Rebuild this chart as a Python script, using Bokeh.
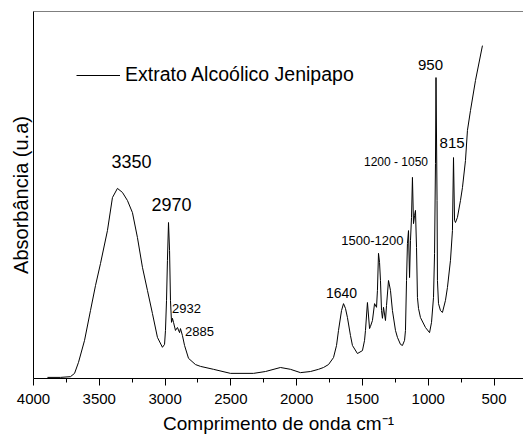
from bokeh.plotting import figure
from bokeh.models import Range1d, Label, FixedTicker, Span
from bokeh.embed import file_html
from bokeh.resources import INLINE

# ---- data ----
wavenumber = [3894, 3795, 3719, 3688, 3658, 3612, 3567, 3529, 3491, 3438,
              3400, 3362, 3324, 3286, 3248, 3210, 3172, 3134, 3096, 3058,
              3020, 3004, 2997, 2989, 2982, 2974, 2966, 2959, 2951, 2944,
              2936, 2921, 2906, 2890, 2883, 2868, 2852, 2822, 2769, 2731,
              2632, 2503, 2328, 2237, 2123, 2047, 1971, 1895, 1834, 1796,
              1758, 1720, 1697, 1682, 1659, 1644, 1629, 1614, 1591, 1576,
              1538, 1500, 1484, 1477, 1462, 1446, 1439, 1424, 1408, 1393,
              1386, 1378, 1370, 1363, 1355, 1348, 1340, 1325, 1317, 1302,
              1287, 1272, 1249, 1234, 1211, 1196, 1180, 1173, 1165, 1158,
              1150, 1142, 1135, 1127, 1120, 1112, 1104, 1097, 1089, 1082,
              1074, 1059, 1021, 990, 975, 960, 952, 945, 941, 933,
              930, 922, 907, 892, 869, 854, 831, 816, 808, 800,
              793, 778, 755, 740, 717, 702, 679, 641, 588]
absorbance = [0.3, 0.3, 0.5, 1.4, 4.4, 10.4, 18.5, 25.3, 31.3, 40.3,
              49.3, 51.8, 50.7, 48.5, 45.2, 38.4, 30.3, 24.0, 17.7, 11.2,
              8.5, 9.3, 13.1, 21.3, 32.2, 42.5, 34.9, 21.3, 15.3, 16.4,
              15.3, 13.1, 13.9, 12.5, 13.6, 11.7, 9.0, 5.5, 3.8, 3.3,
              2.5, 1.4, 1.4, 1.9, 3.0, 2.5, 1.6, 1.9, 2.5, 3.0,
              3.8, 5.7, 9.0, 13.1, 18.5, 20.4, 19.1, 16.6, 11.7, 9.0,
              6.8, 7.6, 10.4, 13.1, 20.7, 13.6, 14.2, 15.8, 20.4, 19.4,
              24.0, 34.1, 31.6, 26.7, 18.5, 16.4, 19.4, 15.8, 19.9, 26.7,
              24.0, 18.5, 13.1, 11.2, 9.3, 9.0, 10.4, 13.1, 26.7, 36.8,
              40.3, 27.5, 37.6, 43.9, 54.8, 42.2, 44.4, 45.8, 35.7, 22.1,
              19.1, 16.6, 13.9, 12.5, 15.3, 22.1, 34.1, 58.6, 82.0, 48.5,
              26.7, 20.4, 18.5, 18.0, 21.3, 24.8, 32.2, 40.3, 60.2, 43.1,
              42.5, 43.9, 48.5, 52.0, 59.4, 67.6, 73.0, 81.2, 90.7]
series_name = "Extrato Alcoólico Jenipapo"
x_ticks = [4000, 3500, 3000, 2500, 2000, 1500, 1000, 500]
x_minor_ticks = [3750, 3250, 2750, 2250, 1750, 1250, 750]
peak_texts = ["3350", "2970", "2932", "2885", "1640",
              "1500-1200", "1200 - 1050", "950", "815"]

# annotation placement (x, y, font size)
peak_places = [(3255, 59.1, "18px"), (2951, 47.4, "18px"), (2837, 19.2, "13px"),
               (2738, 12.8, "13px"), (1659, 23.3, "14px"), (1424, 37.6, "13px"),
               (1245, 59.1, "12px"), (983, 85.4, "15px"), (819, 64.3, "15px")]

FONT = "Liberation Sans"
X_START, X_END = 4000, 276
Y_START, Y_END = 0, 100

p = figure(width=523, height=439, x_range=Range1d(X_START, X_END),
           y_range=Range1d(Y_START, Y_END),
           output_backend="svg", toolbar_location=None,
           min_border_left=33, min_border_right=0, min_border_top=11, min_border_bottom=61)
p.xgrid.visible = False
p.ygrid.visible = False
p.outline_line_color = None

p.line(wavenumber, absorbance, line_color="black", line_width=1, legend_label=series_name)

# x axis
xa = p.xaxis[0]
xa.ticker = FixedTicker(ticks=x_ticks, minor_ticks=x_minor_ticks)
xa.major_tick_out = 7
xa.major_tick_in = 0
xa.minor_tick_out = 4
xa.minor_tick_in = 0
xa.major_label_standoff = 8
xa.major_label_text_font = FONT
xa.major_label_text_font_size = "15px"
xa.major_label_text_color = "black"
xa.axis_label = "Comprimento de onda cm⁻¹"
xa.axis_label_text_font = FONT
xa.axis_label_text_font_size = "19px"
xa.axis_label_text_font_style = "normal"
xa.axis_label_text_color = "black"
xa.axis_label_standoff = 6
xa.axis_line_color = "black"
xa.major_tick_line_color = "black"
xa.minor_tick_line_color = "black"

# y axis (no ticks)
ya = p.yaxis[0]
ya.ticker = FixedTicker(ticks=[])
ya.major_tick_out = 0
ya.minor_tick_out = 0
ya.axis_label = "Absorbância (u.a)"
ya.axis_label_text_font = FONT
ya.axis_label_text_font_size = "20px"
ya.axis_label_text_font_style = "normal"
ya.axis_label_text_color = "black"
ya.axis_label_standoff = 2
ya.axis_line_color = "black"

# frame lines on the left and top
p.add_layout(Span(location=X_START, dimension="height", line_color="black", line_width=1))
p.add_layout(Span(location=Y_END, dimension="width", line_color="black", line_width=1))

for txt, (lx, ly, fs) in zip(peak_texts, peak_places):
    p.add_layout(Label(x=lx, y=ly, text=txt, text_align="center", text_baseline="middle",
                       text_font=FONT, text_font_size=fs, text_color="black"))

lg = p.legend[0]
lg.location = (43, 292)
lg.margin = 0
lg.padding = 0
lg.spacing = 0
lg.glyph_width = 44
lg.glyph_height = 20
lg.label_height = 20
lg.label_standoff = 5
lg.label_text_font = FONT
lg.label_text_font_size = "19.5px"
lg.label_text_color = "black"
lg.border_line_color = None
lg.background_fill_alpha = 0

open("out.html", "w").write(file_html(p, INLINE))
